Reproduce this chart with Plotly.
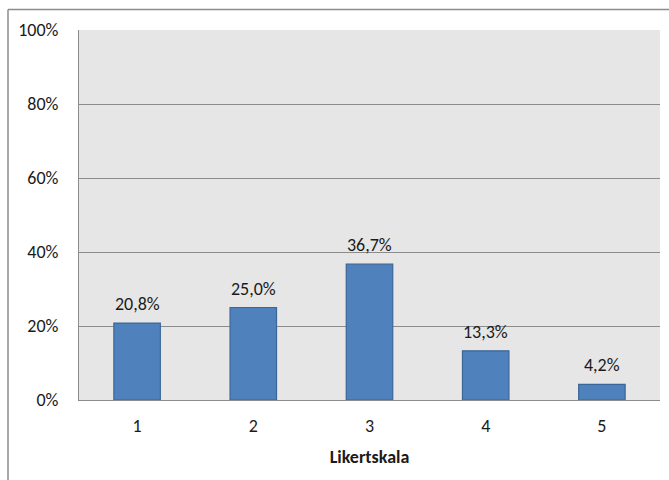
import plotly.graph_objects as go

categories = ["1", "2", "3", "4", "5"]
shares = [20.8, 25.0, 36.7, 13.3, 4.2]
labels = ["20,8%", "25,0%", "36,7%", "13,3%", "4,2%"]
y_ticks = [0, 20, 40, 60, 80, 100]
y_tick_text = ["0%", "20%", "40%", "60%", "80%", "100%"]

W, H = 669, 480
L, R, T, B = 79, 9, 30, 80
FONT = "Calibri, Carlito, Lato, sans-serif"
FS = 18

fig = go.Figure(
    go.Bar(
        x=categories,
        y=shares,
        marker=dict(color="#4F81BD", line=dict(color="#3B6698", width=1.2)),
    )
)

# value labels sitting just above each bar (category axis: position by index)
for i, (val, lab) in enumerate(zip(shares, labels)):
    fig.add_annotation(
        x=i, y=val, text=lab, showarrow=False,
        yanchor="bottom", yshift=6,
        font=dict(size=FS, color="#1a1a1a", family=FONT),
    )

pw, ph = W - L - R, H - T - B

def px_to_paper(x, y):
    return (x - L) / pw, (H - B - y) / ph

x0, y0 = px_to_paper(8, 9.5)
x1, _ = px_to_paper(669, 9.5)
_, y1 = px_to_paper(8, 480)

fig.update_layout(
    width=W,
    height=H,
    margin=dict(l=L, r=R, t=T, b=B),
    paper_bgcolor="white",
    plot_bgcolor="#E6E6E6",
    bargap=0.6,
    showlegend=False,
    font=dict(family=FONT, size=FS, color="#1a1a1a"),
    xaxis=dict(
        type="category",
        showgrid=False,
        showline=True,
        linecolor="#8C8C8C",
        linewidth=1,
        ticks="",
        ticklabelstandoff=9,
        tickfont=dict(size=FS),
        title=dict(text="<b>Likertskala</b>", font=dict(size=FS), standoff=14),
    ),
    yaxis=dict(
        range=[0, 100],
        tickvals=y_ticks,
        ticktext=y_tick_text,
        showgrid=True,
        gridcolor="#8C8C8C",
        gridwidth=1,
        showline=True,
        linecolor="#8C8C8C",
        linewidth=1,
        zeroline=False,
        ticks="",
        ticklabelstandoff=16,
        tickfont=dict(size=FS),
    ),
    shapes=[
        dict(type="line", xref="paper", yref="paper", x0=x0, y0=y0, x1=x1, y1=y0,
             line=dict(color="#8C8C8C", width=1.5)),
        dict(type="line", xref="paper", yref="paper", x0=x0, y0=y0, x1=x0, y1=y1,
             line=dict(color="#8C8C8C", width=1.5)),
    ],
)

fig.write_html("out.html")
